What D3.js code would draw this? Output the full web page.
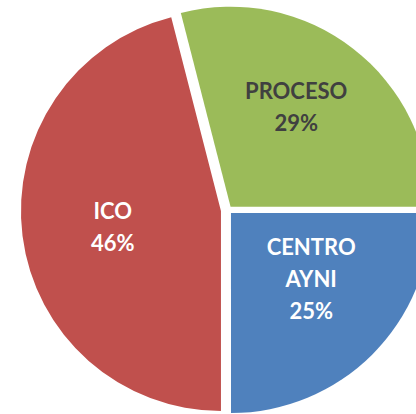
<!DOCTYPE html>
<html>
<head>
<meta charset="utf-8">
<script src="https://cdn.jsdelivr.net/npm/d3@7"></script>
<style>
  html, body { margin: 0; padding: 0; background: #fff; }
  #chart { width: 416px; height: 414px; overflow: hidden; }
  .label { font-family: Lato, "Open Sans", sans-serif; font-weight: 700; font-size: 22px; }
</style>
</head>
<body>
<div id="chart"></div>
<script>
// data
const categories = ["PROCESO", "CENTRO AYNI", "ICO"];
const values = [29, 25, 46];
const labelLines = [["PROCESO", "29%"], ["CENTRO", "AYNI", "25%"], ["ICO", "46%"]];

const colors = ["#9BBB59", "#4F81BD", "#C0504D"];
const textColors = ["#404040", "#ffffff", "#ffffff"];
const explode = [4.2, 4.2, 7.1];          // px each slice is pulled out
const labelNudge = [[-3, -11], [1, -13], [3, 2]];

const w = 416;
const h = 414;
const cx = 228, cy = 210;
const radius = 200;
const labelRadius = 112;

const total = d3.sum(values);
const start = Math.PI / 2 - (values[0] / total) * 2 * Math.PI; // blue starts at 3 o'clock

const pie = d3.pie().sort(null).startAngle(start).endAngle(start + 2 * Math.PI);
const arcs = pie(values);

const arc = d3.arc().innerRadius(0).outerRadius(radius);
const labelArc = d3.arc().innerRadius(labelRadius).outerRadius(labelRadius);

const svg = d3.select("#chart")
  .append("svg")
  .attr("width", w)
  .attr("height", h);

const g = svg.append("g").attr("transform", `translate(${cx},${cy})`);

const slices = g.selectAll("g.slice")
  .data(arcs)
  .enter()
  .append("g")
  .attr("class", "slice")
  .attr("transform", (d, i) => {
    const mid = (d.startAngle + d.endAngle) / 2;
    return `translate(${Math.sin(mid) * explode[i]},${-Math.cos(mid) * explode[i]})`;
  });

slices.append("path")
  .attr("d", arc)
  .attr("fill", (d, i) => colors[i])
  .attr("stroke", "none");

const lineHeight = 32;

slices.append("text")
  .attr("class", "label")
  .attr("text-anchor", "middle")
  .attr("fill", (d, i) => textColors[i])
  .attr("transform", (d, i) => {
    const c = labelArc.centroid(d);
    return `translate(${c[0] + labelNudge[i][0]},${c[1] + labelNudge[i][1]})`;
  })
  .each(function(d, i) {
    const lines = labelLines[i];
    const first = -((lines.length - 1) * lineHeight) / 2 + 8;
    d3.select(this).selectAll("tspan")
      .data(lines)
      .enter()
      .append("tspan")
      .attr("x", 0)
      .attr("y", (t, j) => first + j * lineHeight)
      .text(t => t);
  });
</script>
</body>
</html>
